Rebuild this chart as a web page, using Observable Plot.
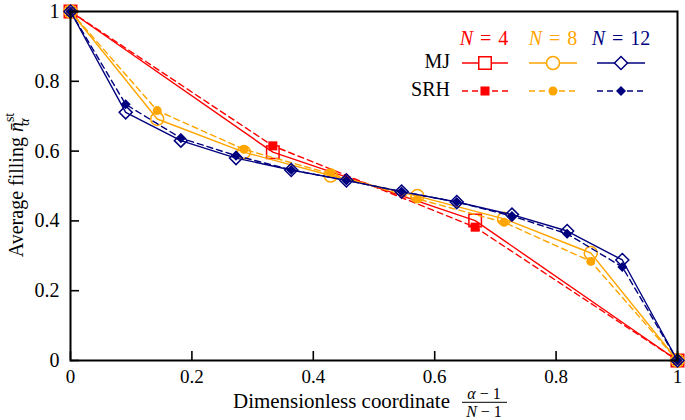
<!DOCTYPE html>
<html><head><meta charset="utf-8">
<script src="https://cdn.jsdelivr.net/npm/d3@7"></script>
<script src="https://cdn.jsdelivr.net/npm/@observablehq/plot@0.6"></script>
<style>
body{margin:0;background:#fff;}
#wrap{position:relative;width:685px;height:420px;font-family:'Liberation Serif','DejaVu Serif',serif;}
#overlay{position:absolute;left:0;top:0;pointer-events:none;}
#wrap svg text{font-family:'Liberation Serif','DejaVu Serif',serif;}
</style></head><body>
<div id="wrap"></div>
<script>
// Data: alpha index -> x = (alpha-1)/(N-1)
const alpha4 = [1,2,3,4];
const mj4  = [1,0.597,0.401,0];
const srh4 = [1,0.615,0.382,0];
const alpha8 = [1,2,3,4,5,6,7,8];
const mj8  = [1,0.692,0.597,0.530,0.471,0.406,0.308,0];
const srh8 = [1,0.716,0.605,0.535,0.463,0.396,0.284,0];
const alpha12 = [1,2,3,4,5,6,7,8,9,10,11,12];
const mj12  = [1,0.711,0.630,0.580,0.546,0.516,0.484,0.454,0.418,0.371,0.288,0];
const srh12 = [1,0.734,0.637,0.587,0.546,0.516,0.484,0.454,0.414,0.363,0.268,0];
const ticks = [0,0.2,0.4,0.6,0.8,1];
const seriesNames = ["N = 4","N = 8","N = 12"];
const colors = ["#ff0000","#ffa500","#00007f"];
const FONT = "'Liberation Serif','DejaVu Serif',serif";

const diamond = {draw(ctx,size){const r=Math.sqrt(size/2);ctx.moveTo(0,-r);ctx.lineTo(r,0);ctx.lineTo(0,r);ctx.lineTo(-r,0);ctx.closePath();}};

function rows(alpha, vals){const N=alpha.length;return alpha.map((a,i)=>({x:(a-1)/(N-1),y:vals[i]}));}
const sets = [
  {N:4, mj:rows(alpha4,mj4), srh:rows(alpha4,srh4), c:colors[0], sym:"square", rO:7.05, rF:5.1},
  {N:8, mj:rows(alpha8,mj8), srh:rows(alpha8,srh8), c:colors[1], sym:"circle", rO:6.5, rF:4.5},
  {N:12, mj:rows(alpha12,mj12), srh:rows(alpha12,srh12), c:colors[2], sym:diamond, rO:5.2, rF:4.0}
];

const marks = [];
for (const s of sets){
  marks.push(Plot.line(s.mj,{x:"x",y:"y",stroke:s.c,strokeWidth:1.4}));
  marks.push(Plot.line(s.srh,{x:"x",y:"y",stroke:s.c,strokeWidth:1.4,strokeDasharray:"6,4"}));
  marks.push(Plot.dot(s.mj,{x:"x",y:"y",symbol:()=>s.sym,r:s.rO,stroke:s.c,strokeWidth:1.5,fill:"none"}));
  marks.push(Plot.dot(s.srh,{x:"x",y:"y",symbol:()=>s.sym,r:s.rF,fill:s.c,stroke:"none"}));
}
const fmt = d=>String(+(+d).toFixed(1));
marks.push(Plot.axisX({ticks, tickFormat:fmt, tickSize:-9, tickPadding:18, label:null, strokeWidth:1.6, fontSize:19}));
marks.push(Plot.axisY({ticks, tickFormat:fmt, tickSize:-9, tickPadding:20, label:null, strokeWidth:1.6, fontSize:20}));
marks.push(Plot.frame({strokeWidth:2}));

const chart = Plot.plot({
  width:685, height:420,
  marginLeft:70, marginRight:8, marginTop:11, marginBottom:60,
  style:{fontFamily:FONT, fontSize:"20px", color:"#000", background:"#fff"},
  x:{domain:[0,1]}, y:{domain:[0,1]},
  symbol:{type:"identity"},
  marks
});
document.getElementById("wrap").appendChild(chart);

// Overlay: legend and axis titles
const svg = d3.select("#wrap").append("svg").attr("id","overlay").attr("width",685).attr("height",420)
  .style("font-family",FONT);
const lx = [[462,508],[529,577],[597,645]];
const hdr = [484,553,621];
seriesNames.forEach((n,i)=>{
  const parts=n.split(" = ");
  const t=svg.append("text").attr("x",hdr[i]).attr("y",45).attr("text-anchor","middle").attr("fill",colors[i]).attr("font-size",20).attr("word-spacing",2);
  t.append("tspan").attr("font-style","italic").text(parts[0]);
  t.append("tspan").text(" = "+parts[1]);
});
svg.append("text").attr("x",450).attr("y",68).attr("text-anchor","end").attr("font-size",20).text("MJ");
svg.append("text").attr("x",450).attr("y",96).attr("text-anchor","end").attr("font-size",20).text("SRH");
sets.forEach((s,i)=>{
  const [a,b]=lx[i]; const cx=(a+b)/2;
  svg.append("line").attr("x1",a).attr("x2",b).attr("y1",63).attr("y2",63).attr("stroke",s.c).attr("stroke-width",1.4);
  svg.append("line").attr("x1",a).attr("x2",b).attr("y1",91).attr("y2",91).attr("stroke",s.c).attr("stroke-width",1.4).attr("stroke-dasharray","6,4");
  const symType = typeof s.sym==="string" ? (s.sym==="square"?d3.symbolSquare:d3.symbolCircle) : s.sym;
  svg.append("path").attr("transform",`translate(${cx},63)`).attr("d",d3.symbol(symType, Math.PI*s.rO*s.rO)()).attr("fill","white").attr("stroke",s.c).attr("stroke-width",1.5);
  svg.append("path").attr("transform",`translate(${cx},91)`).attr("d",d3.symbol(symType, Math.PI*s.rF*s.rF)()).attr("fill",s.c);
});
// y title
const yt = svg.append("text").attr("transform","translate(23,185) rotate(-90)").attr("text-anchor","middle").attr("font-size",20);
yt.append("tspan").text("Average filling ");
yt.append("tspan").attr("font-style","italic").text("n\u0304");
yt.append("tspan").attr("font-size",14).attr("dy",-9).text("st");
yt.append("tspan").attr("font-size",14).attr("font-style","italic").attr("dx",-13).attr("dy",15).text("\u03b1");
// x title
svg.append("text").attr("x",233).attr("y",408).attr("font-size",20).attr("textLength",217).attr("lengthAdjust","spacingAndGlyphs").text("Dimensionless coordinate");
svg.append("text").attr("x",484).attr("y",398.5).attr("text-anchor","middle").attr("font-size",16).html('<tspan font-style="italic">\u03b1</tspan> \u2212 1');
svg.append("line").attr("x1",462).attr("x2",507).attr("y1",402.3).attr("y2",402.3).attr("stroke","#000").attr("stroke-width",1);
svg.append("text").attr("x",484).attr("y",416.5).attr("text-anchor","middle").attr("font-size",16).html('<tspan font-style="italic">N</tspan> \u2212 1');
</script></body></html>
